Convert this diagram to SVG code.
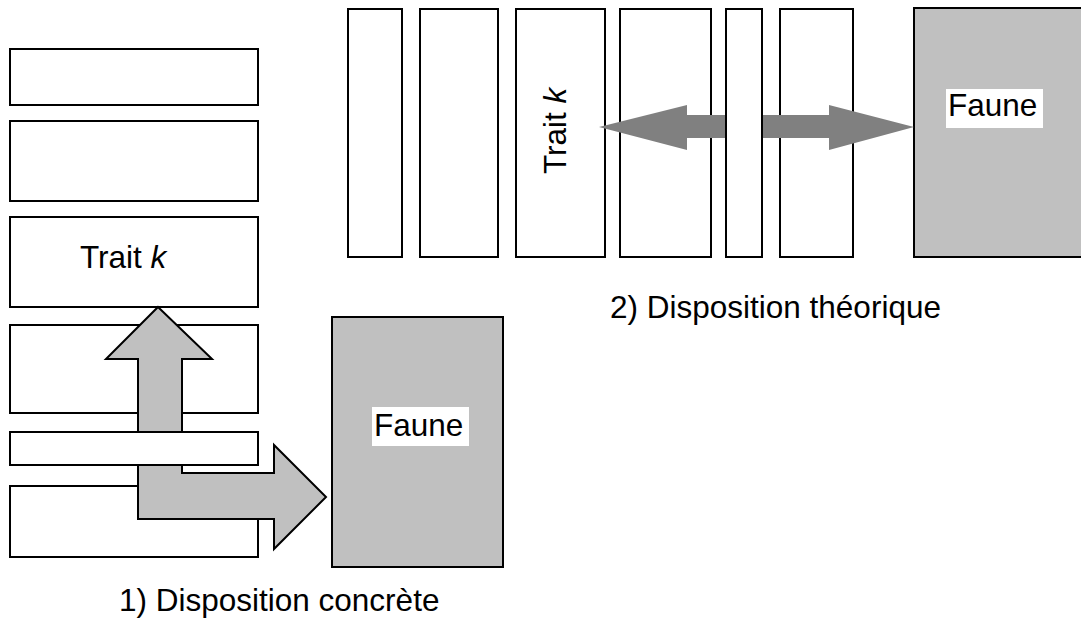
<svg xmlns="http://www.w3.org/2000/svg" width="1081" height="621" viewBox="0 0 1081 621">
<style>
.box{fill:#fff;stroke:#000;stroke-width:2}
.faune{fill:#c0c0c0;stroke:#000;stroke-width:2}
.lbl{fill:#fff}
text{font-family:"Liberation Sans",Arial,sans-serif;font-size:31.5px;fill:#000}
.it{font-style:italic}
</style>
<rect width="1081" height="621" fill="#fff"/>
<g id="concrete-traits">
<rect id="c1" class="box" x="10" y="49" width="248" height="56"/>
<rect id="c2" class="box" x="10" y="121" width="248" height="80"/>
<g id="c3"><rect class="box" x="10" y="217" width="248" height="90"/>
<text x="80" y="268">Trait <tspan class="it">k</tspan></text></g>
<rect id="c4" class="box" x="10" y="325" width="248" height="88"/>
<rect id="c6" class="box" x="10" y="486" width="248" height="71"/>
</g>
<g id="faune1">
<rect class="faune" x="332" y="317" width="171" height="250"/>
<rect class="lbl" x="372" y="407" width="97" height="39"/>
<text x="374" y="436">Faune</text>
</g>
<g id="theory-traits">
<rect id="t1" class="box" x="348" y="9" width="54" height="248"/>
<rect id="t2" class="box" x="420" y="9" width="78" height="248"/>
<g id="t3"><rect class="box" x="516" y="9" width="89" height="248"/>
<text transform="translate(566,174) rotate(-90)">Trait <tspan class="it">k</tspan></text></g>
<rect id="t4" class="box" x="620" y="9" width="91" height="248"/>
<rect id="t6" class="box" x="780" y="9" width="73" height="248"/>
</g>
<g id="faune2">
<rect class="faune" x="914" y="8" width="180" height="249"/>
<rect class="lbl" x="946" y="89" width="97" height="39"/>
<text x="948" y="116">Faune</text>
</g>
<g id="connectors">
<polygon fill="#c0c0c0" stroke="#000" stroke-width="2" stroke-linejoin="miter" points="158,307 212,359 182,359 182,473 274,473 274,445 326,497 274,549 274,519 138,519 138,359 106,359"/>
<polygon fill="#808080" points="599,127 687,105 687,115 829,115 829,105 914,127 829,150 829,138 687,138 687,150"/>
</g>
<rect id="c5" class="box" x="10" y="432" width="248" height="33"/>
<rect id="t5" class="box" x="726" y="9" width="36" height="248"/>
<text id="cap1" x="119" y="611">1) Disposition concrète</text>
<text id="cap2" x="610" y="318">2) Disposition théorique</text>
</svg>
